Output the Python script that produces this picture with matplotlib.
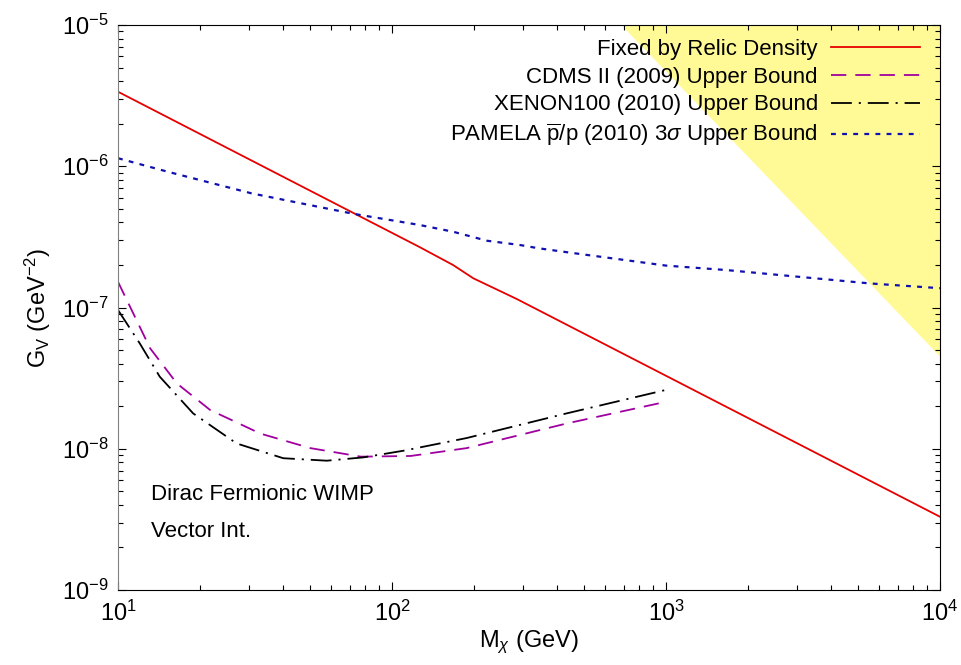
import matplotlib
matplotlib.use("Agg")
import matplotlib.pyplot as plt
from matplotlib.ticker import LogLocator, NullFormatter

plt.rcParams['font.family'] = ['Liberation Sans', 'DejaVu Sans']
plt.rcParams['mathtext.fontset'] = 'custom'
plt.rcParams['mathtext.rm'] = 'Liberation Sans'
plt.rcParams['mathtext.it'] = 'Liberation Sans:italic'
plt.rcParams['mathtext.sf'] = 'Liberation Sans'
plt.rcParams['lines.scale_dashes'] = False

# relic density line
relic_mass = [10, 126, 167, 198, 285, 10000]
relic_gv = [3.37e-6, 2.68e-7, 2.0e-7, 1.61e-7, 1.15e-7, 3.3e-9]

# CDMS II (2009)
cdms_mass = [10, 13.1, 16.4, 21.7, 33.1, 50.4, 77, 117, 187, 434, 1000]
cdms_gv = [1.52e-7, 5.14e-8, 2.9e-8, 1.88e-8, 1.28e-8, 1.01e-8, 8.79e-9, 8.89e-9, 1.01e-8, 1.51e-8, 2.15e-8]

# XENON100 (2010)
xenon_mass = [10, 12.0, 14.2, 18.8, 27.1, 40.1, 57.8, 78.7, 110, 187, 434, 1000]
xenon_gv = [9.6e-8, 5.58e-8, 3.24e-8, 1.78e-8, 1.09e-8, 8.57e-9, 8.23e-9, 8.69e-9, 9.68e-9, 1.19e-8, 1.78e-8, 2.61e-8]

# PAMELA pbar/p (2010) 3 sigma
pamela_mass = [10, 15.2, 30.7, 53.7, 73, 126, 167, 222, 293, 341, 430, 1000, 1667, 5560, 10000]
pamela_gv = [1.14e-6, 9.14e-7, 6.43e-7, 5.17e-7, 4.59e-7, 3.84e-7, 3.44e-7, 2.97e-7, 2.77e-7, 2.63e-7,
             2.47e-7, 1.98e-7, 1.84e-7, 1.48e-7, 1.37e-7]

# yellow excluded region (lower edge)
excl_mass = [687, 10000]
excl_gv = [1e-5, 4.5e-8]

fig = plt.figure(figsize=(9.61, 6.65), dpi=100)
ax = fig.add_axes([118/961, 1 - 590/665, 822/961, 565/665])
ax.set_xscale('log')
ax.set_yscale('log')
ax.set_xlim(10, 1e4)
ax.set_ylim(1e-9, 1e-5)

ax.fill_between(excl_mass, excl_gv, [1e-5, 1e-5], color='#fffa96', linewidth=0, zorder=0)

ax.plot(relic_mass, relic_gv, color='#e60000', lw=1.3, label='Fixed by Relic Density')
ax.plot(cdms_mass, cdms_gv, color='#a000a0', lw=1.3, dashes=(11, 6.5),
        label='CDMS II (2009) Upper Bound')
ax.plot(xenon_mass, xenon_gv, color='black', lw=1.3, dashes=(15, 5, 1.5, 5),
        label='XENON100 (2010) Upper Bound')
ax.plot(pamela_mass, pamela_gv, color='#1010b0', lw=1.6, dashes=(3.5, 4.5),
        label=r'PAMELA $\mathrm{\overline{p}}$/p (2010) 3$\sigma$ Upper Bound')

ax.legend(loc='upper right', bbox_to_anchor=(920/961, 1 - 39/665), bbox_transform=fig.transFigure,
          frameon=False, markerfirst=False, fontsize=16, handlelength=4.0, handletextpad=0.6,
          labelspacing=0.30, borderpad=0, borderaxespad=0)

ax.text(0.04, 0.16, 'Dirac Fermionic WIMP', transform=ax.transAxes, fontsize=16)
ax.text(0.04, 0.093, 'Vector Int.', transform=ax.transAxes, fontsize=16)

ax.xaxis.set_minor_locator(LogLocator(base=10, subs=range(2, 10)))
ax.yaxis.set_minor_locator(LogLocator(base=10, subs=range(2, 10)))
ax.xaxis.set_minor_formatter(NullFormatter())
ax.yaxis.set_minor_formatter(NullFormatter())
ax.tick_params(which='both', direction='in', top=True, right=True, labelsize=17)
ax.tick_params(which='major', length=6, width=0.8)
ax.tick_params(which='minor', length=3.5, width=0.8)
ax.tick_params(axis='x', which='major', pad=8)
ax.tick_params(axis='y', which='major', pad=7)
ax.spines['left'].set_color('#808080')

ax.set_xlabel(r'M$_\chi$ (GeV)', fontsize=17, labelpad=2)
ax.set_ylabel(r'G$_\mathrm{V}$ (GeV$^{-2}$)', fontsize=17, labelpad=6)

fig.savefig('out.png', dpi=100)
